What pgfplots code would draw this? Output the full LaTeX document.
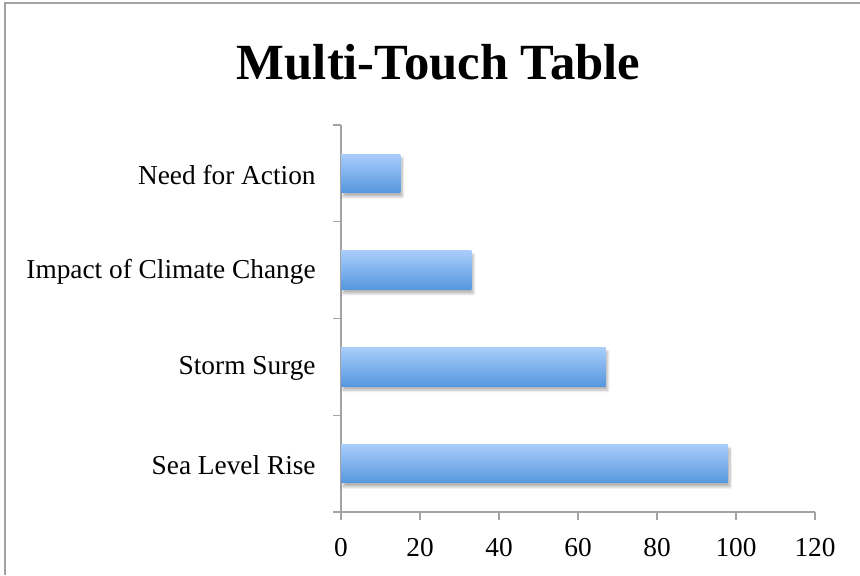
\documentclass[border=0pt]{standalone}
\usepackage{pgfplots}
\pgfplotsset{compat=1.18}
\usepackage{fontspec}
\setmainfont{Liberation Serif}
\usetikzlibrary{shadows.blur}

\definecolor{axisgray}{HTML}{A3A3A3}
\definecolor{bartop}{HTML}{A9CDFB}
\definecolor{barbottom}{HTML}{5697DE}

\pgfplotsset{
  gradbar/.style={draw=none, bar shift=0pt, top color=bartop, bottom color=barbottom,
    blur shadow={shadow xshift=1.5pt, shadow yshift=-3pt, shadow blur steps=8, shadow opacity=30}},
}

\begin{document}
\begin{tikzpicture}[x=0.75pt,y=0.75pt]
  \useasboundingbox (0,0) rectangle (860,575);
  % chart frame
  \draw[axisgray, line width=1.5pt] (4.5,0) -- (4.5,571.5) -- (860,571.5);
  % title
  \node[anchor=base, font=\bfseries\fontsize{38}{42}\selectfont] at (438.5,495) {Multi-Touch Table};
  \begin{axis}[
      at={(255.75pt,47.25pt)}, anchor=south west,
      scale only axis,
      width=355.5pt, height=290.25pt,
      xbar, bar width=0.4,
      xmin=0, xmax=120,
      ymin=-0.5, ymax=3.5,
      xtick={0,20,...,120},
      ytick={0,1,2,3},
      yticklabels={Sea Level Rise,Storm Surge,Impact of Climate Change,Need for Action},
      minor ytick={-0.5,0.5,1.5,2.5,3.5},
      axis x line*=bottom, axis y line*=left,
      axis line style={axisgray, line width=1.1pt, -},
      tick style={axisgray, line width=1.1pt},
      major y tick style={draw=none},
      tick align=outside,
      major tick length=6pt, minor tick length=6pt,
      tick label style={font=\fontsize{20.5}{24}\selectfont, black},
      /pgf/number format/assume math mode=true,
      yticklabel style={xshift=-9.5pt, yshift=-1pt},
      xticklabel style={yshift=-10.5pt},
    ]
    % one plot per category so each bar carries its own gradient
    \addplot[gradbar] coordinates {(98,0)};
    \addplot[gradbar] coordinates {(67,1)};
    \addplot[gradbar] coordinates {(33,2)};
    \addplot[gradbar] coordinates {(15,3)};
  \end{axis}
\end{tikzpicture}
\end{document}
